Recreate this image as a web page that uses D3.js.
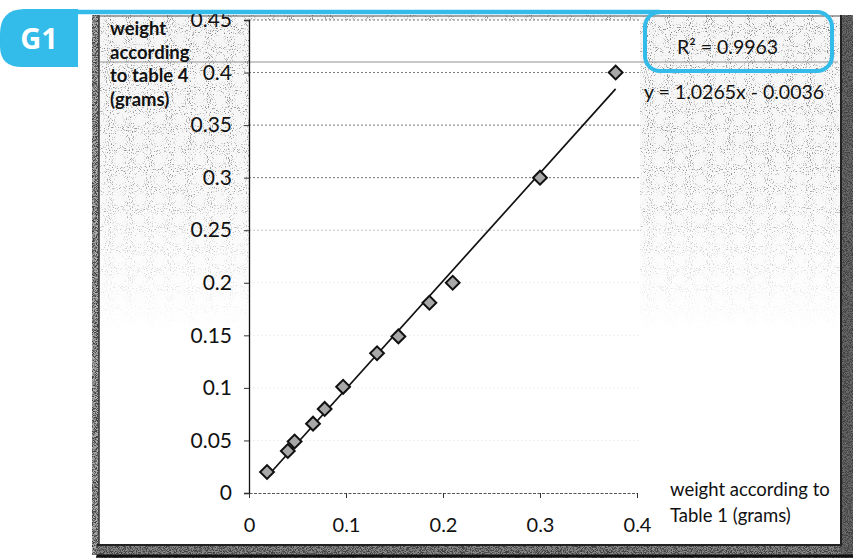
<!DOCTYPE html>
<html>
<head>
<meta charset="utf-8">
<script src="https://cdn.jsdelivr.net/npm/d3@7"></script>
<style>
  body { margin: 0; background: #fff; }
  svg { display: block; font-family: Lato, "Open Sans", sans-serif; }
</style>
</head>
<body>
<script>
// values
const xVals = [0.0186, 0.040, 0.047, 0.066, 0.078, 0.097, 0.132, 0.154, 0.186, 0.210, 0.300, 0.378];
const yVals = [0.020, 0.040, 0.049, 0.066, 0.080, 0.101, 0.133, 0.149, 0.181, 0.200, 0.300, 0.400];
const slope = 1.0265;
const intercept = -0.0036;
const rSquared = "0.9963";
const xTicks = [0, 0.1, 0.2, 0.3, 0.4];
const yTicks = [0, 0.05, 0.1, 0.15, 0.2, 0.25, 0.3, 0.35, 0.4, 0.45];
const yTitle = ["weight", "according", "to table 4", "(grams)"];
const xTitle = ["weight according to", "Table 1 (grams)"];

const width = 853, height = 558;
const blue = "#33bbea";

const svg = d3.select("body").append("svg")
    .attr("width", width)
    .attr("height", height);

// speckle filters for the scan texture
const defs = svg.append("defs");
function grainFilter(id, freq, seed, shade, gain, offset) {
    const f = defs.append("filter").attr("id", id)
        .attr("x", 0).attr("y", 0).attr("width", "100%").attr("height", "100%");
    f.append("feTurbulence").attr("type", "fractalNoise").attr("baseFrequency", freq)
        .attr("numOctaves", 1).attr("seed", seed);
    f.append("feColorMatrix").attr("type", "matrix")
        .attr("values", `0 0 0 0 ${shade}  0 0 0 0 ${shade}  0 0 0 0 ${shade}  ${gain} 0 0 0 ${offset}`);
    f.append("feComposite").attr("in2", "SourceGraphic").attr("operator", "in");
}
grainFilter("grain", 0.95, 4, 0.2, 6, -3.45);
grainFilter("grainDark", 1.2, 7, 0.05, 5, -2.1);

const grad = defs.append("linearGradient").attr("id", "fade")
    .attr("x1", 0).attr("y1", 0).attr("x2", 0).attr("y2", 1);
grad.append("stop").attr("offset", "0").attr("stop-color", "#fff");
grad.append("stop").attr("offset", "0.3").attr("stop-color", "#ccc");
grad.append("stop").attr("offset", "0.6").attr("stop-color", "#000");
defs.append("mask").attr("id", "fadeMask")
    .append("rect").attr("x", 96).attr("y", 15).attr("width", 744).attr("height", 531)
    .attr("fill", "url(#fade)");

const x = d3.scaleLinear().domain([0, 0.4]).range([249, 637]);
const y = d3.scaleLinear().domain([0, 0.45]).range([493, 20]);

// chart background (scanned, speckle fading downward)
const bg = svg.append("g").attr("mask", "url(#fadeMask)");
bg.append("rect").attr("x", 96).attr("y", 15).attr("width", 744).attr("height", 531)
    .attr("fill", "#f6f6f6");
bg.append("rect").attr("x", 96).attr("y", 15).attr("width", 744).attr("height", 531)
    .attr("fill", "#000").attr("filter", "url(#grain)");

// plot area is plain white
svg.append("rect").attr("x", 249).attr("y", 20).attr("width", 391).attr("height", 473)
    .attr("fill", "#fff");

// frame bands
const bands = [[92, 15, 7, 540, "#b0b0b0"], [96, 544, 757, 14, "#8a8a8a"], [841, 15, 12, 543, "#6a6a6a"]];
bands.forEach(b => {
    svg.append("rect").attr("x", b[0]).attr("y", b[1]).attr("width", b[2]).attr("height", b[3])
        .attr("fill", b[4]);
    svg.append("rect").attr("x", b[0]).attr("y", b[1]).attr("width", b[2]).attr("height", b[3])
        .attr("fill", "#000").attr("filter", "url(#grainDark)");
});
svg.append("line").attr("x1", 99).attr("x2", 99).attr("y1", 15).attr("y2", 546)
    .attr("stroke", "#333").attr("stroke-width", 1.5);
svg.append("line").attr("x1", 97).attr("x2", 841).attr("y1", 545).attr("y2", 545)
    .attr("stroke", "#222").attr("stroke-width", 2);
svg.append("line").attr("x1", 97).attr("x2", 853).attr("y1", 556).attr("y2", 556)
    .attr("stroke", "#111").attr("stroke-width", 3);
svg.append("line").attr("x1", 841).attr("x2", 841).attr("y1", 15).attr("y2", 546)
    .attr("stroke", "#222").attr("stroke-width", 2);
svg.append("line").attr("x1", 96).attr("x2", 840).attr("y1", 16).attr("y2", 16)
    .attr("stroke", "#555").attr("stroke-width", 1);
// faint fold line
svg.append("line").attr("x1", 100).attr("x2", 838).attr("y1", 62).attr("y2", 62)
    .attr("stroke", "#777").attr("stroke-width", 0.8);

// gridlines (the scan has washed out the lower ones)
svg.append("g").selectAll("line")
    .data(yTicks.filter(d => d > 0))
    .join("line")
    .attr("x1", x(0)).attr("x2", x(0.4) + 3)
    .attr("y1", d => y(d)).attr("y2", d => y(d))
    .attr("stroke", "#777").attr("stroke-width", 1)
    .attr("stroke-dasharray", "2,2")
    .attr("opacity", d => d >= 0.3 ? 1 : d >= 0.25 ? 0.45 : 0.12);

// y axis
const yAxis = svg.append("g")
    .attr("transform", `translate(${x(0)},0)`)
    .call(d3.axisLeft(y).tickValues(yTicks).tickSize(5).tickFormat(d3.format("~g")));
yAxis.select(".domain").attr("stroke", "#111").attr("stroke-width", 1.3);
yAxis.selectAll(".tick line").attr("stroke", "#333");
yAxis.selectAll(".tick text")
    .attr("x", -17)
    .attr("font-size", 21)
    .attr("font-family", "Lato, 'Open Sans', sans-serif")
    .attr("fill", "#111");

// x axis
const xAxis = svg.append("g")
    .attr("transform", `translate(0,${y(0)})`)
    .call(d3.axisBottom(x).tickValues(xTicks).tickSize(5).tickFormat(d3.format("~g")));
xAxis.select(".domain").attr("stroke", "#555").attr("stroke-dasharray", "3,1.5");
xAxis.selectAll(".tick line").attr("stroke", "#333");
xAxis.selectAll(".tick text")
    .attr("y", 25)
    .attr("font-size", 20)
    .attr("font-family", "Lato, 'Open Sans', sans-serif")
    .attr("fill", "#111");

// trend line over the data range
const xr = d3.extent(xVals);
svg.append("line")
    .attr("x1", x(xr[0])).attr("y1", y(slope * xr[0] + intercept))
    .attr("x2", x(xr[1])).attr("y2", y(slope * xr[1] + intercept))
    .attr("stroke", "#111").attr("stroke-width", 1.7);

// diamond markers
const pts = xVals.map((v, i) => ({ x: v, y: yVals[i] }));
const sym = d3.symbol().type(d3.symbolSquare).size(95);
svg.append("g").selectAll("path")
    .data(pts)
    .join("path")
    .attr("d", sym)
    .attr("transform", d => `translate(${x(d.x)},${y(d.y)}) rotate(45)`)
    .attr("fill", "#a8a8a8")
    .attr("stroke", "#111")
    .attr("stroke-width", 2);

// axis titles
svg.append("text")
    .attr("x", 110).attr("y", 35)
    .attr("font-size", 18.5).attr("font-weight", "bold").attr("fill", "#111")
    .selectAll("tspan").data(yTitle).join("tspan")
    .attr("x", 110).attr("dy", (d, i) => i ? 23.5 : 0)
    .text(d => d);

svg.append("text")
    .attr("x", 670).attr("y", 496)
    .attr("font-size", 18.5).attr("fill", "#111")
    .selectAll("tspan").data(xTitle).join("tspan")
    .attr("x", 670).attr("dy", (d, i) => i ? 26 : 0)
    .text(d => d);

// equation labels
svg.append("text").attr("x", 677).attr("y", 54)
    .attr("font-size", 19.5).attr("fill", "#111")
    .text("R² = " + rSquared);
svg.append("text").attr("x", 644).attr("y", 99)
    .attr("font-size", 19.5).attr("fill", "#111")
    .text(`y = ${slope}x - ${Math.abs(intercept)}`);

// blue annotation overlay
svg.append("line").attr("x1", 60).attr("x2", 660).attr("y1", 12).attr("y2", 12)
    .attr("stroke", blue).attr("stroke-width", 4.5);
svg.append("rect").attr("x", 645).attr("y", 12).attr("width", 187).attr("height", 59)
    .attr("rx", 15).attr("fill", "none").attr("stroke", blue).attr("stroke-width", 4);
svg.append("path")
    .attr("d", "M0,34 Q0,9 25,9 L78,9 L78,67 L22,67 Q0,67 0,46 Z")
    .attr("fill", blue);
svg.append("text").attr("x", 39).attr("y", 49)
    .attr("text-anchor", "middle")
    .attr("font-size", 29).attr("font-weight", "bold").attr("fill", "#fff")
    .attr("font-family", "'Open Sans', sans-serif")
    .text("G1");
</script>
</body>
</html>
